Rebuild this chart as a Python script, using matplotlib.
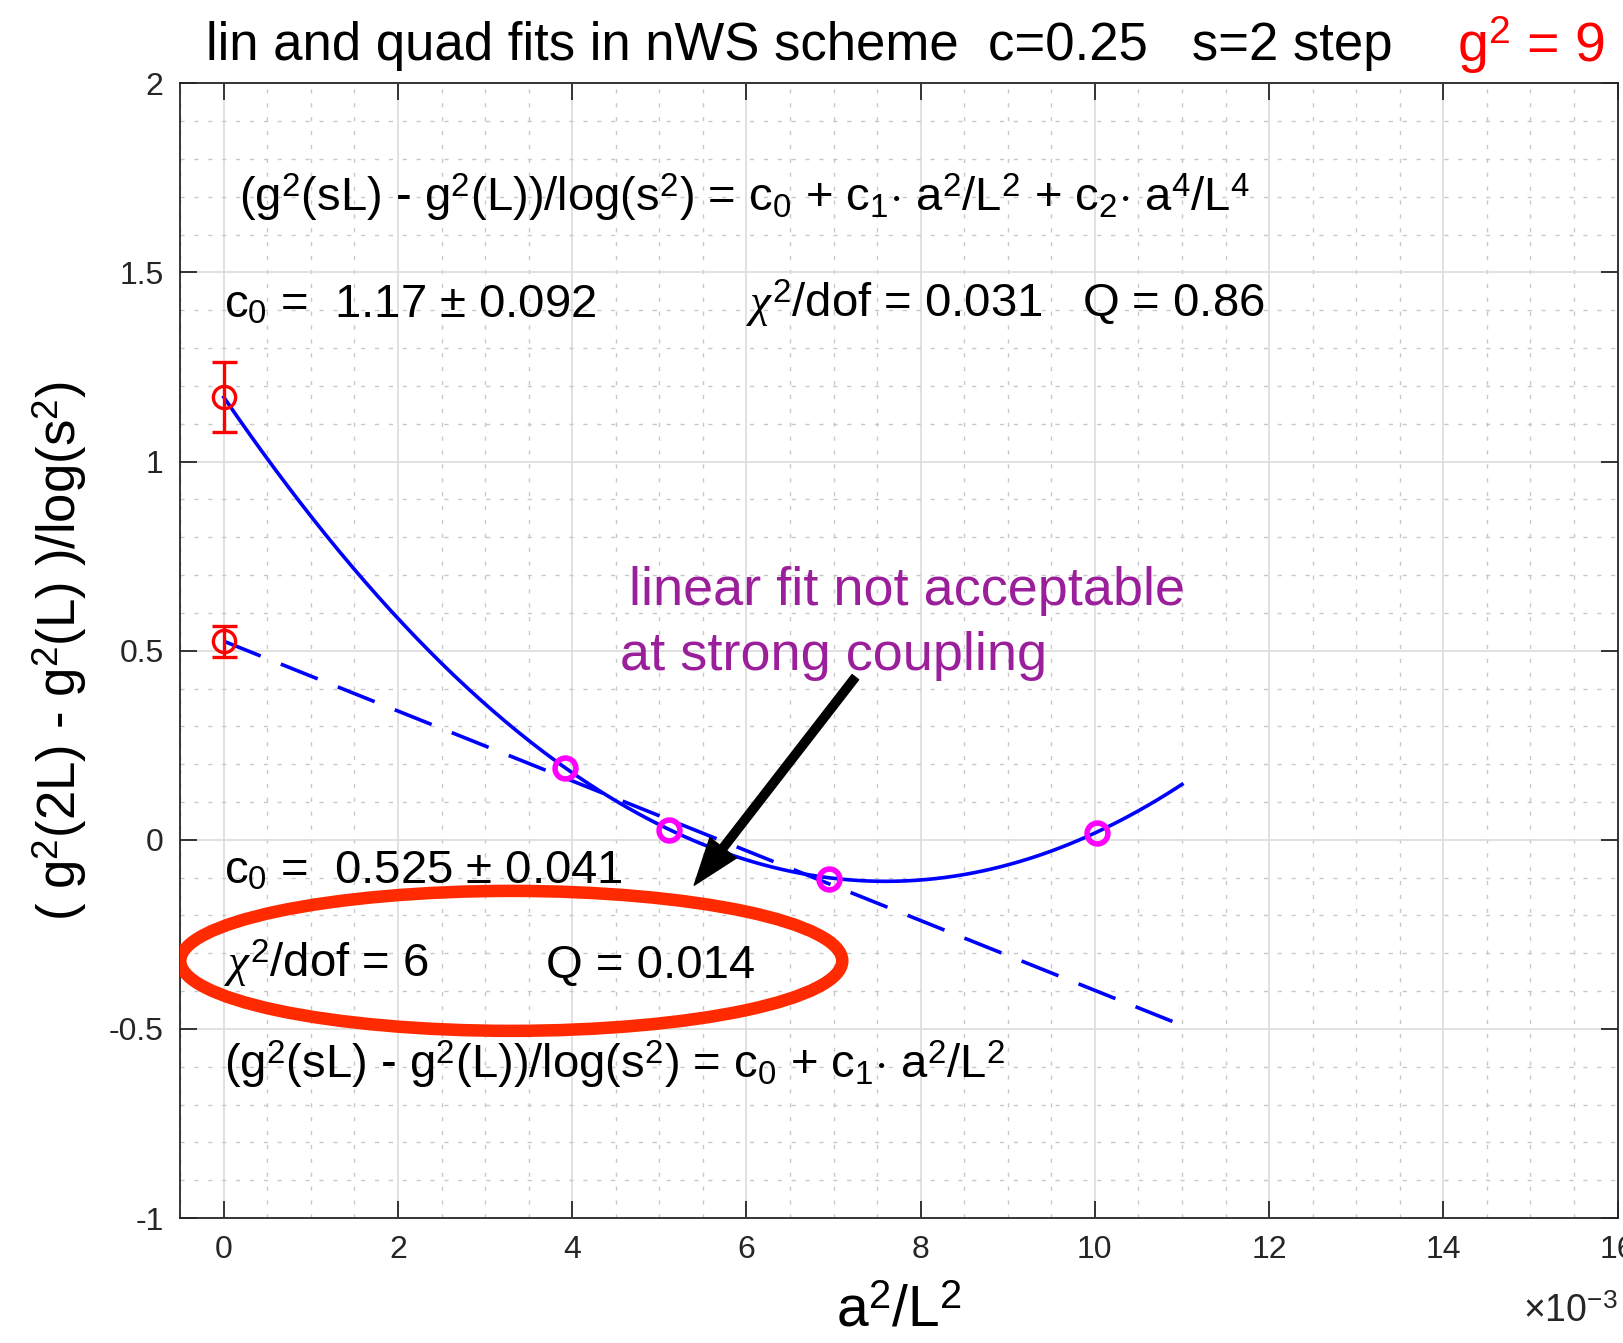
import numpy as np
import matplotlib
matplotlib.use("Agg")
import matplotlib.pyplot as plt
from matplotlib.patches import Ellipse
from matplotlib.ticker import MultipleLocator, FuncFormatter

plt.rcParams['font.family'] = ['Liberation Sans', 'DejaVu Sans']
plt.rcParams['mathtext.fontset'] = 'custom'
plt.rcParams['mathtext.rm'] = 'Liberation Sans'
plt.rcParams['mathtext.it'] = 'Liberation Serif:italic'

# data
x_pts = [3.92e-3, 5.11e-3, 6.95e-3, 10.02e-3]
y_pts = [0.189, 0.027, -0.104, 0.019]

# extrapolated continuum values (quad, lin)
c0_vals = [1.17, 0.525]
c0_errs = [0.092, 0.041]

# fit coefficients
quad_c = [1.17, -336.8, 22160.0]
lin_c = [0.525, -92.3]
fit_xmax = 11e-3

fig = plt.figure(figsize=(16.24, 13.43), dpi=100)
ax = fig.add_axes([0.111, 0.093, 0.885, 0.845])

xx = np.linspace(0, fit_xmax, 300)
ax.plot(xx, quad_c[0] + quad_c[1]*xx + quad_c[2]*xx**2, color='b', lw=2.6, zorder=3)
ax.plot(xx, lin_c[0] + lin_c[1]*xx, color='b', lw=2.6, dashes=(11, 6), zorder=3)

ax.errorbar([0, 0], c0_vals, yerr=c0_errs, fmt='o', mfc='none', mec='r', ecolor='r',
            ms=16, mew=2.4, elinewidth=2.4, capsize=9, capthick=2.4, zorder=4)
ax.plot(x_pts, y_pts, 'o', mfc='none', mec='magenta', ms=15, mew=4, zorder=4)

ax.set_xlim(-0.5e-3, 16e-3)
ax.set_ylim(-1, 2)
ax.xaxis.set_major_locator(MultipleLocator(2e-3))
ax.xaxis.set_minor_locator(MultipleLocator(0.5e-3))
ax.yaxis.set_major_locator(MultipleLocator(0.5))
ax.yaxis.set_minor_locator(MultipleLocator(0.1))
ax.xaxis.set_major_formatter(FuncFormatter(lambda v, p: '%g' % round(v*1e3, 6)))
ax.yaxis.set_major_formatter(FuncFormatter(lambda v, p: '%g' % v))
ax.grid(which='major', color='#dcdcdc', lw=1.2)
ax.grid(which='minor', color='#c8c8c8', lw=1.0, linestyle=(0, (3, 7)))
ax.set_axisbelow(True)
ax.tick_params(which='major', direction='in', length=12, width=1.3, top=True, right=True,
               labelsize=23, labelcolor='#262626', color='#262626', pad=12)
ax.tick_params(which='minor', length=0)
for s in ax.spines.values():
    s.set_color('#262626')
    s.set_linewidth(1.3)

ax.text(16.0e-3, -1.2, r'$\times$10$^{-3}$', fontsize=27, color='#262626', ha='right', va='top')
ax.set_xlabel(r'a$^2$/L$^2$', fontsize=41, labelpad=14)
ax.set_ylabel(r'( g$^2$(2L) - g$^2$(L) )/log(s$^2$)', fontsize=38, labelpad=14)

fig.text(0.127, 0.966, 'lin and quad fits in nWS scheme  c=0.25   s=2 step', fontsize=38,
         va='center', ha='left')
fig.text(0.897, 0.966, r'g$^2$ = 9', fontsize=40, color='r', va='center', ha='left')

fs = 34
ax.text(0.17e-3, 1.66, r'(g$^2$(sL) - g$^2$(L))/log(s$^2$) = c$_0$ + c$_1$$\cdot$ a$^2$/L$^2$ + c$_2$$\cdot$ a$^4$/L$^4$',
        fontsize=fs, va='baseline')
ax.text(0.0, 1.38, r'c$_0$ =  1.17 $\pm$ 0.092', fontsize=fs, va='baseline')
ax.text(6.0e-3, 1.38, r'$\chi^2$/dof = 0.031   Q = 0.86', fontsize=fs, va='baseline')
ax.text(4.65e-3, 0.62, 'linear fit not acceptable', fontsize=39, color='#9b1f9b', va='baseline')
ax.text(4.55e-3, 0.45, 'at strong coupling', fontsize=39, color='#9b1f9b', va='baseline')
ax.text(0.0, -0.115, r'c$_0$ =  0.525 $\pm$ 0.041', fontsize=fs, va='baseline')
ax.text(0.0, -0.365, r'$\chi^2$/dof = 6', fontsize=fs, va='baseline')
ax.text(3.7e-3, -0.365, 'Q = 0.014', fontsize=fs, va='baseline')
ax.text(0.0, -0.63, r'(g$^2$(sL) - g$^2$(L))/log(s$^2$) = c$_0$ + c$_1$$\cdot$ a$^2$/L$^2$',
        fontsize=fs, va='baseline')

ax.add_patch(Ellipse((3.3e-3, -0.32), 7.6e-3, 0.37, fill=False, edgecolor='#ff2a00', lw=9, zorder=5))
ax.annotate('', xy=(5.4e-3, -0.12), xytext=(7.25e-3, 0.43),
            arrowprops=dict(facecolor='k', edgecolor='k', width=6, headwidth=24, headlength=34))

fig.savefig('out.png', dpi=100)
